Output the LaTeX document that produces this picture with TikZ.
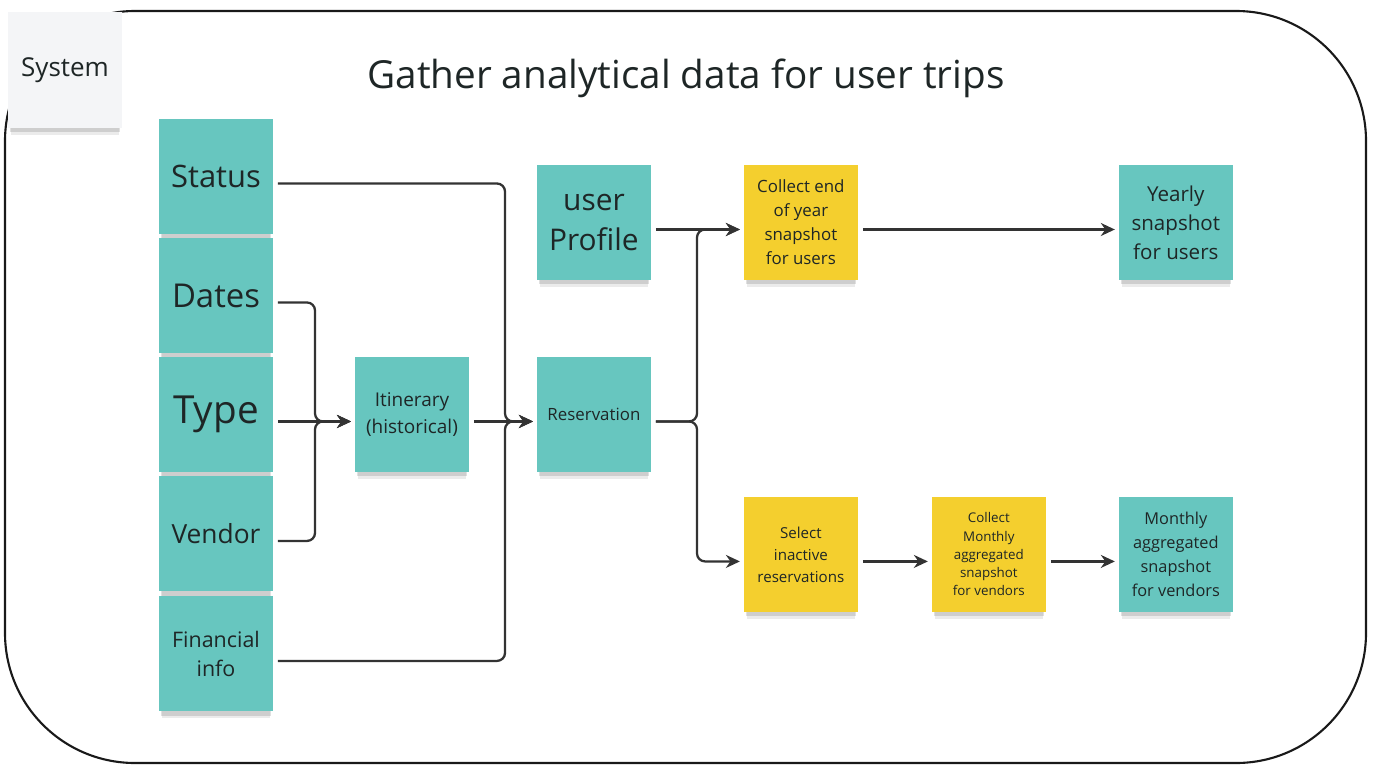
\documentclass[tikz,border=0pt]{standalone}
\usepackage{fontspec}
\setmainfont{Open Sans}
\usepackage{xcolor}
\usepackage{tikz}
\usetikzlibrary{arrows.meta,positioning,shadows}
\definecolor{notegreen}{RGB}{103,198,191}
\definecolor{noteyellow}{RGB}{244,207,46}
\definecolor{notewhite}{RGB}{244,245,247}
\definecolor{inkgrey}{RGB}{51,51,51}
\definecolor{textdark}{RGB}{30,38,38}
\tikzset{
  sticky/.style={rectangle,minimum width=2.28cm,minimum height=2.3cm,
    inner sep=0pt,outer sep=0pt,align=center,text=textdark,
    general shadow={fill=black,opacity=0.08,shadow yshift=-0.2cm,shadow scale=0.95},
    general shadow={fill=black,opacity=0.12,shadow yshift=-0.14cm,shadow scale=0.96}},
  tealnote/.style={sticky,fill=notegreen},
  yellownote/.style={sticky,fill=noteyellow},
  flow/.style={-{Stealth[length=0.28cm,width=0.26cm]},line width=1.3pt,draw=inkgrey,
    rounded corners=0.16cm,shorten <=0.1cm,shorten >=0.08cm},
  frame/.style={draw=black!90,line width=1.2pt,rounded corners=2.6cm}
}

\begin{document}
\begin{tikzpicture}[x=0.02cm,y=0.02cm,node distance=0.08cm]
  \useasboundingbox (0,0) rectangle (1375,-771);
  \draw[frame] (5,-11) rectangle (1366,-763);
  \node[sticky,fill=notewhite,minimum height=2.32cm,font=\fontsize{14.8}{18}\selectfont] (system) at (65,-70) {System};
  \node[font=\fontsize{22}{26}\selectfont,text=textdark] (title) at (686,-78) {Gather analytical data for user trips};
  % input notes
  \node[tealnote,font=\fontsize{17.6}{21}\selectfont] (status) at (216,-176.5) {Status};
  \node[tealnote,below=of status,font=\fontsize{18.7}{22}\selectfont] (dates) {Dates};
  \node[tealnote,below=of dates,font=\fontsize{22}{26}\selectfont] (type) {Type};
  \node[tealnote,below=0.09cm of type,font=\fontsize{15}{18}\selectfont] (vendor) {Vendor};
  \node[tealnote,below=0.1cm of vendor,font=\fontsize{12.2}{17}\selectfont] (financial) {Financial\\info};
  \node[tealnote,right=1.64cm of type,font=\fontsize{10.8}{15.3}\selectfont] (itinerary) {Itinerary\\(historical)};
  \node[tealnote,right=1.36cm of itinerary,font=\fontsize{9.6}{12}\selectfont] (reservation) {Reservation};
  \node[tealnote,above=1.54cm of reservation,font=\fontsize{17}{23.2}\selectfont] (profile) {user\\Profile};
  % snapshots
  \node[yellownote,right=1.86cm of profile,font=\fontsize{9.6}{13.6}\selectfont] (yearcollect) {Collect end\\of year\\snapshot\\for users};
  \node[tealnote,right=5.22cm of yearcollect,font=\fontsize{11.7}{16.4}\selectfont] (yearly) {Yearly\\snapshot\\for users};
  \node[yellownote,below=4.34cm of yearcollect,font=\fontsize{8.6}{12.5}\selectfont] (select) {Select\\inactive\\reservations};
  \node[yellownote,right=1.48cm of select,font=\fontsize{7.6}{10.4}\selectfont] (monthcollect) {Collect\\Monthly\\aggregated\\snapshot\\for vendors};
  \node[tealnote,right=1.46cm of monthcollect,font=\fontsize{9.3}{13.6}\selectfont] (monthly) {Monthly\\aggregated\\snapshot\\for vendors};
  % ports, a bit below the middle
  \foreach \n in {status,dates,type,vendor,financial,itinerary,reservation,profile,yearcollect,yearly,select,monthcollect,monthly}{
    \coordinate (\n-in) at ([yshift=-0.14cm]\n.west);
    \coordinate (\n-out) at ([yshift=-0.14cm]\n.east);
  }
  \coordinate (mergeL) at (315,0);
  \coordinate (mergeR) at (505,0);
  \coordinate (split) at (697,0);
  \draw[flow] (status-out) -| (reservation-in -| mergeR) -- (reservation-in);
  \draw[flow] (financial-out) -| (reservation-in -| mergeR) -- (reservation-in);
  \draw[flow] (dates-out) -| (itinerary-in -| mergeL) -- (itinerary-in);
  \draw[flow] (type-out) -- (itinerary-in);
  \draw[flow] (vendor-out) -| (itinerary-in -| mergeL) -- (itinerary-in);
  \draw[flow] (itinerary-out) -- (reservation-in);
  \draw[flow] (profile-out) -- (yearcollect-in);
  \draw[flow] (reservation-out) -| (yearcollect-in -| split) -- (yearcollect-in);
  \draw[flow] (reservation-out) -| (select-in -| split) -- (select-in);
  \draw[flow] (yearcollect-out) -- (yearly-in);
  \draw[flow] (select-out) -- (monthcollect-in);
  \draw[flow] (monthcollect-out) -- (monthly-in);
\end{tikzpicture}
\end{document}
